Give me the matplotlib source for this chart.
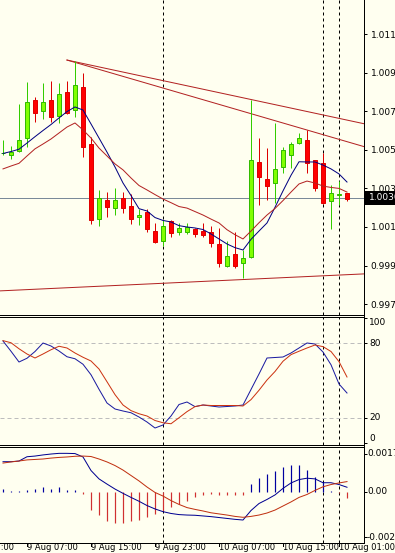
import matplotlib
matplotlib.use('Agg')
import matplotlib.pyplot as plt
from matplotlib.patches import Rectangle
from matplotlib.lines import Line2D
import matplotlib.transforms as mtrans

W, H = 395, 553
BG = '#FFFFF0'

# ---------------- data ----------------
opens = [1.00531, 1.00523, 1.00544, 1.00611, 1.00808, 1.00751, 1.00808, 1.00725, 1.00849, 1.00756,
         1.00875, 1.00580, 1.00191, 1.00290, 1.00248, 1.00300, 1.00259, 1.00202, 1.00228, 1.00129,
         1.00077, 1.00181, 1.00124, 1.00124, 1.00140, 1.00129, 1.00124, 1.00062, 0.99948, 1.00010,
         0.99963, 0.99995, 1.00487, 1.00399, 1.00378, 1.00461, 1.00523, 1.00585, 1.00601, 1.00497,
         1.00482, 1.00285, 1.00318, 1.00326]
highs = [1.00601, 1.00570, 1.00787, 1.00901, 1.00824, 1.00896, 1.00906, 1.00896, 1.00906, 1.01010,
         1.00948, 1.00616, 1.00342, 1.00331, 1.00352, 1.00331, 1.00321, 1.00243, 1.00243, 1.00171,
         1.00186, 1.00186, 1.00171, 1.00171, 1.00145, 1.00171, 1.00155, 1.00145, 1.00077, 1.00124,
         1.00031, 1.00808, 1.00611, 1.00559, 1.00689, 1.00565, 1.00590, 1.00637, 1.00653, 1.00497,
         1.00533, 1.00368, 1.00388, 1.00326]
lows = [1.00523, 1.00502, 1.00539, 1.00565, 1.00694, 1.00710, 1.00694, 1.00689, 1.00736, 1.00720,
        1.00513, 1.00166, 1.00155, 1.00202, 1.00212, 1.00223, 1.00166, 1.00160, 1.00124, 1.00067,
        1.00052, 1.00098, 1.00109, 1.00114, 1.00098, 1.00098, 1.00046, 0.99943, 0.99943, 0.99938,
        0.99886, 0.99989, 1.00264, 1.00290, 1.00274, 1.00430, 1.00456, 1.00580, 1.00430, 1.00337,
        1.00269, 1.00140, 1.00264, 1.00285]
closes = [1.00536, 1.00539, 1.00601, 1.00798, 1.00741, 1.00798, 1.00720, 1.00839, 1.00741, 1.00886,
          1.00565, 1.00186, 1.00300, 1.00254, 1.00290, 1.00248, 1.00191, 1.00212, 1.00140, 1.00072,
          1.00155, 1.00119, 1.00145, 1.00150, 1.00114, 1.00109, 1.00067, 0.99963, 1.00000, 0.99948,
          0.99989, 1.00497, 1.00409, 1.00362, 1.00451, 1.00549, 1.00580, 1.00611, 1.00482, 1.00352,
          1.00274, 1.00326, 1.00323, 1.00295]
ma_fast = [1.00531, 1.00541, 1.00553, 1.00585, 1.00618, 1.00650, 1.00681, 1.00715, 1.00748, 1.00772,
           1.00756, 1.00684, 1.00611, 1.00538, 1.00461, 1.00378, 1.00313, 1.00245, 1.00233, 1.00199,
           1.00184, 1.00176, 1.00157, 1.00150, 1.00145, 1.00137, 1.00114, 1.00088, 1.00062, 1.00043,
           1.00031, 1.00086, 1.00129, 1.00171, 1.00252, 1.00337, 1.00418, 1.00488, 1.00487, 1.00487,
           1.00471, 1.00451, 1.00425, 1.00383]
ma_slow = [1.00451, 1.00466, 1.00480, 1.00518, 1.00555, 1.00580, 1.00606, 1.00637, 1.00668, 1.00689,
           1.00653, 1.00611, 1.00559, 1.00518, 1.00477, 1.00446, 1.00404, 1.00365, 1.00342, 1.00318,
           1.00295, 1.00276, 1.00256, 1.00248, 1.00230, 1.00212, 1.00191, 1.00171, 1.00136, 1.00110,
           1.00088, 1.00129, 1.00172, 1.00212, 1.00246, 1.00287, 1.00331, 1.00373, 1.00388, 1.00378,
           1.00362, 1.00355, 1.00350, 1.00331]
stoch_k = [81.6, 73.4, 64.8, 67.8, 73.2, 80.0, 77.6, 73.6, 69.0, 67.4,
           63.0, 54.6, 43.0, 32.0, 27.2, 25.6, 24.2, 20.8, 16.8, 12.0,
           14.4, 21.6, 30.8, 32.8, 29.1, 30.4, 29.6, 28.8, 29.2, 29.6,
           30.4, 42.8, 55.2, 68.0, 68.4, 68.8, 72.0, 76.0, 80.0, 79.2,
           72.8, 62.6, 47.2, 40.0]
stoch_d = [81.9, 80.2, 75.4, 71.2, 68.0, 71.2, 74.6, 77.4, 76.0, 72.0,
           68.6, 65.6, 59.2, 49.0, 38.7, 30.4, 25.9, 23.4, 21.6, 18.0,
           16.2, 15.4, 20.2, 25.1, 29.1, 30.4, 30.0, 30.0, 30.0, 30.0,
           29.6, 34.7, 42.2, 50.4, 57.2, 65.4, 70.7, 73.4, 76.0, 78.4,
           77.1, 73.2, 65.1, 52.8]
macd_hist = [0.00013, 0.00003, 0.00003, 0.00010, 0.00015, 0.00020, 0.00015, 0.00020, 0.00008, 0.00010,
             -0.00010, -0.00080, -0.00100, -0.00130, -0.00136, -0.00136, -0.00130, -0.00124, -0.00110, -0.00097,
             -0.00083, -0.00068, -0.00053, -0.00038, -0.00022, -0.00015, -0.00010, -0.00015, -0.00015, -0.00015,
             -0.00015, 0.00035, 0.00060, 0.00080, 0.00094, 0.00112, 0.00120, 0.00120, 0.00097, 0.00068,
             0.00046, 0.00003, -0.00003, -0.00025]
macd_main = [0.00134, 0.00134, 0.00137, 0.00156, 0.00159, 0.00164, 0.00168, 0.00171, 0.00171, 0.00170,
             0.00155, 0.00095, 0.00058, 0.00035, 0.00013, -0.00006, -0.00024, -0.00041, -0.00060, -0.00075,
             -0.00087, -0.00095, -0.00100, -0.00102, -0.00103, -0.00106, -0.00109, -0.00113, -0.00117, -0.00121,
             -0.00124, -0.00082, -0.00051, -0.00033, -0.00013, 0.00016, 0.00040, 0.00055, 0.00061, 0.00058,
             0.00041, 0.00041, 0.00033, 0.00021]
macd_signal = [0.00128, 0.00133, 0.00137, 0.00142, 0.00144, 0.00146, 0.00150, 0.00153, 0.00155, 0.00158,
               0.00159, 0.00157, 0.00146, 0.00133, 0.00117, 0.00097, 0.00073, 0.00049, 0.00022, -0.00002,
               -0.00018, -0.00038, -0.00055, -0.00069, -0.00077, -0.00084, -0.00092, -0.00097, -0.00102, -0.00108,
               -0.00112, -0.00108, -0.00102, -0.00093, -0.00080, -0.00062, -0.00044, -0.00024, -0.00011, 0.00007,
               0.00023, 0.00033, 0.00040, 0.00046]

trend_upper = [(8, 1.01015), (45.25, 1.00684)]
trend_lower = [(8, 1.01015), (45.25, 1.00565)]
support_line = [(-0.375, 0.99819), (45.125, 0.99907)]
bid_price = 1.0030
vline_bars = [20, 40, 42]

price_ticks = [1.0115, 1.0095, 1.0075, 1.0055, 1.0035, 1.0015, 0.9995, 0.9975]
stoch_levels = [80, 20]
stoch_labels = ['100', '80', '20', '0']
macd_labels = ['0.0017', '0.00', '-0.002']
time_tick_bars = [-5, 3, 11, 19, 27, 35, 42]
time_labels = ['8 Aug 23:00', '9 Aug 07:00', '9 Aug 15:00', '9 Aug 23:00',
               '10 Aug 07:00', '10 Aug 15:00', '10 Aug 01:00']

# ---------------- layout ----------------
fig = plt.figure(figsize=(W / 100, H / 100), dpi=100, facecolor=BG)
LW = 0.72  # 1 px
FS = 6.5


def rect(x0, y0, x1, y1):
    return [x0 / W, 1 - y1 / H, (x1 - x0) / W, (y1 - y0) / H]


XL = (-0.375, 45.125)
ax1 = fig.add_axes(rect(0, 0, 364, 314.5))
ax2 = fig.add_axes(rect(0, 316.5, 364, 445))
ax3 = fig.add_axes(rect(0, 446.5, 364, 542.5))

for ax in (ax1, ax2, ax3):
    ax.set_facecolor(BG)
    ax.set_xlim(*XL)
    ax.set_xticks([])
    ax.spines['left'].set_visible(False)
    for s in ('top', 'bottom', 'right'):
        ax.spines[s].set_linewidth(LW)
        ax.spines[s].set_color('black')
    ax.tick_params(axis='y', left=False, right=True, labelleft=False, labelright=False,
                   length=2.2, width=LW, color='black')
    for b in vline_bars:
        ax.axvline(b, color='black', lw=LW, ls=(0, (3, 3)), zorder=1)
ax1.spines['top'].set_visible(False)

# ---------------- price panel ----------------
ax1.set_ylim(0.996966, 1.013262)
x = list(range(len(opens)))
up = [c >= o for o, c in zip(opens, closes)]
wick_cols = ['#33CC00' if u else '#DD0000' for u in up]
ax1.vlines(x, lows, highs, colors=wick_cols, lw=LW, zorder=3)
bottoms = [min(o, c) for o, c in zip(opens, closes)]
heights = [max(abs(c - o), 0.00002) for o, c in zip(opens, closes)]
face = ['#80FF00' if u else '#FF0000' for u in up]
edge = ['#33BB00' if u else '#E00000' for u in up]
ax1.bar(x, heights, bottom=bottoms, width=0.62, color=face, edgecolor=edge, linewidth=LW, zorder=4)

ax1.plot(x, ma_fast, color='#000080', lw=LW, zorder=5)
ax1.plot(x, ma_slow, color='#B22222', lw=LW, zorder=5)
for ln in (trend_upper, trend_lower, support_line):
    ax1.plot([p[0] for p in ln], [p[1] for p in ln], color='#B22222', lw=LW, zorder=2)
ax1.axhline(bid_price, color='#7A8A99', lw=LW, zorder=2)

ax1.set_yticks(price_ticks)
ax1.set_yticklabels([f'{t:.4f}' for t in price_ticks])
ax1.tick_params(axis='y', labelright=True, labelsize=FS, pad=2.5)

# bid box
fig.patches.append(Rectangle((365 / W, 1 - 205 / H), 31 / W, 14 / H, transform=fig.transFigure,
                             facecolor='black', edgecolor='none', zorder=5))
fig.text(368.5 / W, 1 - 198 / H, f'{bid_price:.4f}', color='white', fontsize=FS,
         va='center', ha='left', zorder=6)

# ---------------- stochastic panel ----------------
ax2.set_ylim(-1.6, 101.2)
ax2.plot(x, stoch_k, color='#1A1AA0', lw=LW, zorder=4)
ax2.plot(x, stoch_d, color='#CC3311', lw=LW, zorder=4)
for lv in stoch_levels:
    ax2.axhline(lv, color='#BDBDBD', lw=LW, ls=(0, (4, 3)), zorder=1)
ax2.set_yticks([100, 80, 20, 0])
tr2 = mtrans.blended_transform_factory(fig.transFigure, ax2.transData)
for lab, v, va in zip(stoch_labels, [100, 80, 20, 0], ['top', 'center', 'center', 'bottom']):
    ax2.text(369 / W, v, lab, transform=tr2, fontsize=FS, va=va, ha='left')

# ---------------- MACD panel ----------------
ax3.set_ylim(-0.002235, 0.002013)
hcol = ['#0000A0' if h >= 0 else '#D03030' for h in macd_hist]
ax3.vlines(x, 0, macd_hist, colors=hcol, lw=LW * 1.2, zorder=3)
ax3.plot(x, macd_main, color='#000090', lw=LW, zorder=4)
ax3.plot(x, macd_signal, color='#C03010', lw=LW, zorder=4)
ax3.set_yticks([0.0017, 0.0, -0.002])
tr3 = mtrans.blended_transform_factory(fig.transFigure, ax3.transData)
for lab, v in zip(macd_labels, [0.0017, 0.0, -0.002]):
    ax3.text(367 / W, v, lab, transform=tr3, fontsize=FS, va='center', ha='left')

# time axis
tr3x = mtrans.blended_transform_factory(ax3.transData, fig.transFigure)
for b, lab in zip(time_tick_bars, time_labels):
    ax3.add_line(Line2D([b, b], [1 - 542.5 / H, 1 - 546 / H], transform=tr3x, color='black',
                        lw=LW, clip_on=False))
    ax3.text(b, 1 - 548 / H, lab, transform=tr3x, fontsize=6, va='center', ha='left',
             clip_on=False)

# full-height right axis line
fig.add_artist(Line2D([364 / W, 364 / W], [1 - 542.5 / H, 1], transform=fig.transFigure,
                      color='black', lw=LW))

fig.savefig('out.png', dpi=100, facecolor=BG)
